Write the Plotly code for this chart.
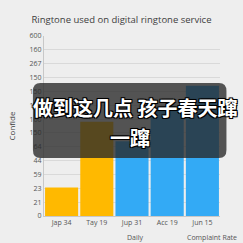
import plotly.graph_objects as go

categories = ["Jap 34", "Tay 19", "Jup 31", "Acc 19", "Jun 15"]
values = [2.05, 6.8, 5.4, 7.7, 9.4]
bar_colors = ["#FFB900", "#FFB900", "#33AAF5", "#33AAF5", "#33AAF5"]
tick_labels = ["0", "21", "23", "59", "44", "64", "150", "160", "122", "150", "150", "267", "160", "600"]
title_text = "Ringtone used on digital ringtone service"
overlay_line1 = "做到这几点 孩子春天蹿"
overlay_line2 = "一蹿"

W, H = 243, 243
L, R, T, B = 29, 23, 36, 27
pw, ph = W - L - R, H - T - B

def px(x):
    return (x - L) / pw

def py(y):
    return (H - B - y) / ph

fig = go.Figure()
fig.add_trace(go.Bar(x=categories, y=values, marker=dict(color=bar_colors, line=dict(width=0)),
                     width=0.94))

fig.update_layout(
    width=W, height=H,
    margin=dict(l=L, r=R, t=T, b=B),
    paper_bgcolor="#EEEEEE", plot_bgcolor="#EEEEEE",
    showlegend=False,
    font=dict(family="Open Sans", color="#555555", size=7),
    title=dict(text=title_text, x=0.5, xanchor="center", y=1 - 20 / H, yanchor="middle",
               font=dict(family="Open Sans", size=9.5, color="#404040")),
    xaxis=dict(showgrid=False, showline=True, linecolor="#C8C8C8", linewidth=1,
               ticks="", tickfont=dict(size=7, color="#555555"), ticklabelstandoff=0),
    yaxis=dict(range=[0, 13], tickvals=list(range(len(tick_labels))), ticktext=tick_labels,
               showgrid=True, gridcolor="#D9D9D9", gridwidth=1, showline=True,
               linecolor="#C8C8C8", linewidth=1, ticks="", zeroline=False,
               tickfont=dict(size=7, color="#555555"),
               title=dict(text="Confide", font=dict(size=8, color="#404040"), standoff=12)),
)

fig.add_annotation(text="Daily", xref="paper", yref="paper", x=px(128), y=py(237),
                   xanchor="center", yanchor="middle",
                   showarrow=False, font=dict(size=7, color="#555555"))
fig.add_annotation(text="Complaint Rate", xref="paper", yref="paper", x=px(240), y=py(237),
                   xanchor="right", yanchor="middle", borderpad=0,
                   showarrow=False, font=dict(size=7, color="#555555"))

# overlay rounded rect
x0, x1, y0, y1, r = 17, 227, 83, 158, 8
path = (f"M {px(x0 + r)},{py(y0)} L {px(x1 - r)},{py(y0)} Q {px(x1)},{py(y0)} {px(x1)},{py(y0 + r)} "
        f"L {px(x1)},{py(y1 - r)} Q {px(x1)},{py(y1)} {px(x1 - r)},{py(y1)} "
        f"L {px(x0 + r)},{py(y1)} Q {px(x0)},{py(y1)} {px(x0)},{py(y1 - r)} "
        f"L {px(x0)},{py(y0 + r)} Q {px(x0)},{py(y0)} {px(x0 + r)},{py(y0)} Z")
fig.add_shape(type="path", path=path, xref="paper", yref="paper",
              fillcolor="rgba(40,40,40,0.78)", line=dict(width=0), layer="above")

shadow = "-1px -1px 0 #000, 1px -1px 0 #000, -1px 1px 0 #000, 1px 1px 0 #000, 0 0 2px #000"
fig.add_annotation(text=overlay_line1, xref="paper", yref="paper", x=px(241), y=py(107),
                   xanchor="right", yanchor="middle", showarrow=False, borderpad=0,
                   font=dict(family="Noto Sans CJK SC", size=20, color="white", weight="bold",
                             shadow=shadow))
fig.add_annotation(text=overlay_line2, xref="paper", yref="paper", x=px(122), y=py(137),
                   xanchor="center", yanchor="middle", showarrow=False, borderpad=0,
                   font=dict(family="Noto Sans CJK SC", size=20, color="white", weight="bold",
                             shadow=shadow))

fig.write_html("out.html")
